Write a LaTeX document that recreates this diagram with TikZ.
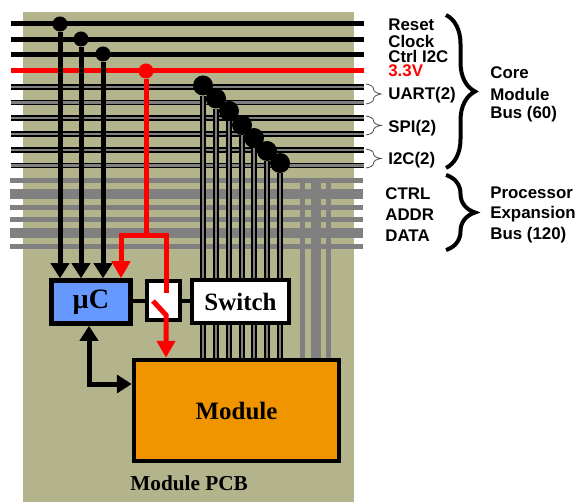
\documentclass[tikz,border=0pt]{standalone}
\usepackage{fontspec}
\setmainfont{Liberation Serif}
\setsansfont{Liberation Sans}
\usepackage{tikz}
\usetikzlibrary{shapes,arrows.meta,positioning,decorations.pathreplacing}
\definecolor{pcbcolor}{RGB}{179,179,140}
\definecolor{buscolor}{RGB}{128,128,128}
\definecolor{mccolor}{RGB}{102,153,255}
\definecolor{modcolor}{RGB}{240,148,0}
\tikzstyle{thick line} = [draw, black, line width=1mm]
\tikzstyle{power line} = [draw, red, line width=1mm]
\tikzstyle{pair line} = [draw, black, line width=0.3mm, double=buscolor, double distance=0.5mm]
\tikzstyle{small bus} = [draw, buscolor, line width=1mm]
\tikzstyle{wide bus} = [draw, buscolor, line width=2mm]
\tikzstyle{sdot} = [circle, fill=black, inner sep=0pt, minimum size=3mm]
\tikzstyle{bdot} = [circle, fill=black, inner sep=0pt, minimum size=4mm]
\tikzstyle{rdot} = [circle, fill=red, inner sep=0pt, minimum size=3mm]
\tikzstyle{block} = [rectangle, draw, line width=0.9mm, font=\bfseries\fontsize{14.2}{16}\selectfont]
\tikzstyle{sig} = [anchor=west, inner sep=0pt, font=\sffamily\bfseries\fontsize{9.6}{11}\selectfont]
\tikzstyle{black arrow} = [-{Triangle[length=3mm,width=3.6mm]}]
\tikzstyle{red arrow} = [-{Triangle[length=3.4mm,width=3.6mm]}]
\tikzstyle{big brace} = [draw, line width=0.8mm, decorate, decoration={brace, amplitude=5.8mm}]
\tikzstyle{small brace} = [draw, black!70, line width=0.16mm, decorate, decoration={brace, amplitude=3mm}]

\begin{document}
\begin{tikzpicture}[x=0.2mm, y=-0.2mm]
	\useasboundingbox (0,0) rectangle (580,502);
	\node [fill=pcbcolor, inner sep=0pt, minimum width=66.2mm, minimum height=98mm] (pcb) at (188.5,257) {};

	% processor expansion bus
	\coordinate (v1t) at (302,181);
	\coordinate (v2t) at (315.5,181);
	\coordinate (v3t) at (328.5,181);
	\coordinate (g1l) at (10,181); \coordinate (g1r) at (363,181);
	\coordinate (g2l) at (10,194); \coordinate (g2r) at (363,194);
	\coordinate (g3l) at (10,207.5); \coordinate (g3r) at (363,207.5);
	\coordinate (g4l) at (10,219.5); \coordinate (g4r) at (363,219.5);
	\coordinate (g5l) at (10,233); \coordinate (g5r) at (363,233);
	\coordinate (g6l) at (10,246.5); \coordinate (g6r) at (363,246.5);
	\path [small bus] (g1l) -- (g1r);
	\path [wide bus] (g2l) -- (g2r);
	\path [small bus] (g3l) -- (g3r);
	\path [small bus] (g4l) -- (g4r);
	\path [wide bus] (g5l) -- (g5r);
	\path [small bus] (g6l) -- (g6r);

	% core module bus
	\coordinate (b1l) at (11,24); \coordinate (b1r) at (364,24);
	\coordinate (b2l) at (11,39.5); \coordinate (b2r) at (364,39.5);
	\coordinate (b3l) at (11,55); \coordinate (b3r) at (364,55);
	\coordinate (b4l) at (11,71); \coordinate (b4r) at (364,71);
	\coordinate (p1l) at (11,87); \coordinate (p1r) at (364,87);
	\coordinate (p2l) at (11,102.5); \coordinate (p2r) at (364,102.5);
	\coordinate (p3l) at (11,118); \coordinate (p3r) at (364,118);
	\coordinate (p4l) at (11,134); \coordinate (p4r) at (364,134);
	\coordinate (p5l) at (11,150); \coordinate (p5r) at (364,150);
	\coordinate (p6l) at (11,165.5); \coordinate (p6r) at (364,165.5);
	\path [thick line] (b1l) -- (b1r);
	\path [thick line] (b2l) -- (b2r);
	\path [thick line] (b3l) -- (b3r);
	\path [power line] (b4l) -- (b4r);
	\path [pair line] (p1l) -- (p1r);
	\path [pair line] (p2l) -- (p2r);
	\path [pair line] (p3l) -- (p3r);
	\path [pair line] (p4l) -- (p4r);
	\path [pair line] (p5l) -- (p5r);
	\path [pair line] (p6l) -- (p6r);

	\node [block, fill=mccolor, font=\bfseries\fontsize{16}{18}\selectfont, minimum width=15.8mm, minimum height=8.6mm] (mc) at (91,302) {µC};
	\node [block, fill=white, line width=0.8mm, minimum width=6.6mm, minimum height=7.8mm] (gate) at (163.5,300.5) {};
	\node [block, fill=white, minimum width=19.4mm, minimum height=8.6mm] (switch) at (240.5,301.5) {Switch};
	\node [block, fill=modcolor, minimum width=41mm, minimum height=20.2mm] (module) at (236.5,410.5) {Module};

	\node [sdot] (s1) at (60,24) {};
	\node [sdot] (s2) at (81,39) {};
	\node [sdot] (s3) at (103,54) {};
	\node [rdot] (r1) at (146,71) {};
	\node [bdot] (d1) at (203,85.5) {};
	\node [bdot] (d2) at (216,98.5) {};
	\node [bdot] (d3) at (229,111) {};
	\node [bdot] (d4) at (242,125) {};
	\node [bdot] (d5) at (254,138) {};
	\node [bdot] (d6) at (267,151) {};
	\node [bdot] (d7) at (280,163) {};

	\path [small bus] (v1t) -- (v1t |- module.north);
	\path [wide bus] (v2t) -- (v2t |- module.north);
	\path [small bus] (v3t) -- (v3t |- module.north);

	\path [pair line] (d1) -- (d1 |- switch.north);
	\path [pair line] (d2) -- (d2 |- switch.north);
	\path [pair line] (d3) -- (d3 |- switch.north);
	\path [pair line] (d4) -- (d4 |- switch.north);
	\path [pair line] (d5) -- (d5 |- switch.north);
	\path [pair line] (d6) -- (d6 |- switch.north);
	\path [pair line] (d7) -- (d7 |- switch.north);
	\path [pair line] (d1 |- switch.south) -- (d1 |- module.north);
	\path [pair line] (d2 |- switch.south) -- (d2 |- module.north);
	\path [pair line] (d3 |- switch.south) -- (d3 |- module.north);
	\path [pair line] (d4 |- switch.south) -- (d4 |- module.north);
	\path [pair line] (d5 |- switch.south) -- (d5 |- module.north);
	\path [pair line] (d6 |- switch.south) -- (d6 |- module.north);
	\path [pair line] (d7 |- switch.south) -- (d7 |- module.north);

	\path [thick line, black arrow] (s1) -- (s1 |- mc.north);
	\path [thick line, black arrow] (s2) -- (s2 |- mc.north);
	\path [thick line, black arrow] (s3) -- (s3 |- mc.north);

	\coordinate (split) at (146,235.5);
	\coordinate (mcin) at (121,235.5);
	\coordinate (gatein) at (166,235.5);
	\coordinate (gateend) at (166,293);
	\coordinate (lever) at (153,301);
	\coordinate (leverend) at (166,315);
	\path [power line] (r1) -- (split);
	\path [power line, red arrow] (split) -- (mcin) -- (mcin |- mc.north);
	\path [power line] (split) -- (gatein) -- (gateend);
	\path [power line, red arrow] (lever) -- (leverend) -- (leverend |- module.north);

	\path [draw, line width=0.8mm] (mc.east |- gate.west) -- (gate.west);
	\path [draw, line width=0.8mm] (gate.east) -- (switch.west |- gate.east);
	\coordinate (corner) at (89,384);
	\path [thick line, {Triangle[length=3mm,width=3.6mm]}-{Triangle[length=3mm,width=3.6mm]}] (corner |- mc.south) -- (corner) -- (corner -| module.west);

	\node [sig] (reset) at (388,25) {Reset};
	\node [sig] (clock) at (388,41) {Clock};
	\node [sig] (ctrli) at (388,56) {Ctrl I2C};
	\node [sig, text=red] (volt) at (388,71) {3.3V};
	\node [sig] (uart) at (388,95) {UART(2)};
	\node [sig] (spi) at (388,128) {SPI(2)};
	\node [sig] (iic) at (388,160) {I2C(2)};
	\node [sig] (ctrl) at (385,194) {CTRL};
	\node [sig] (addr) at (385,215) {ADDR};
	\node [sig] (data) at (385,236) {DATA};
	\node [sig] (core) at (490,73) {Core};
	\node [sig] (cmod) at (490,94) {Module};
	\node [sig] (cbus) at (490,114) {Bus (60)};
	\node [sig] (proc) at (490,193) {Processor};
	\node [sig] (expa) at (490,214) {Expansion};
	\node [sig] (pbus) at (490,235) {Bus (120)};
	\node [anchor=west, inner sep=0pt, font=\bfseries\fontsize{12.1}{14}\selectfont] (pcbname) at (130,483) {Module PCB};

	\coordinate (ub1) at (366,84); \coordinate (ub2) at (366,104);
	\coordinate (sb1) at (366,116); \coordinate (sb2) at (366,135);
	\coordinate (ib1) at (366,149); \coordinate (ib2) at (366,168);
	\coordinate (cb1) at (446,15); \coordinate (cb2) at (446,168);
	\coordinate (pb1) at (446,175); \coordinate (pb2) at (446,250);
	\path [small brace] (ub1) -- (ub2);
	\path [small brace] (sb1) -- (sb2);
	\path [small brace] (ib1) -- (ib2);
	\path [big brace] (cb1) -- (cb2);
	\path [big brace] (pb1) -- (pb2);
\end{tikzpicture}
\end{document}
